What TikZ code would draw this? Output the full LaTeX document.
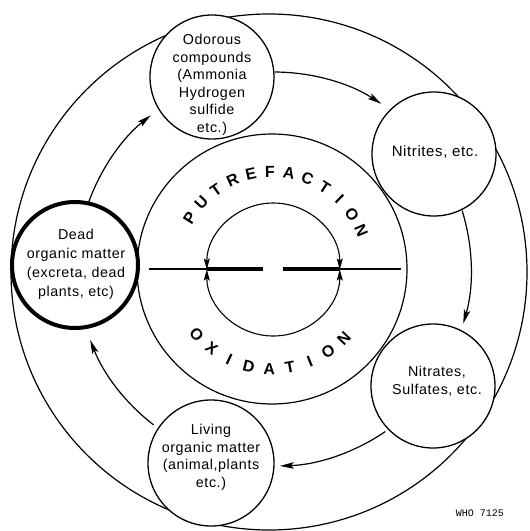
\documentclass[tikz,border=0pt]{standalone}
\usepackage{fontspec}
\setmainfont{Liberation Sans}
\newfontfamily\lab[LetterSpace=4]{Liberation Sans}
\newfontfamily\capsf{Liberation Sans}
\newfontfamily\monof{Liberation Mono}
\usetikzlibrary{arrows.meta,calc}
\begin{document}
\begin{tikzpicture}[x=1pt,y=1pt,
  bub/.style={circle,draw,line width=1.3pt,fill=white,inner sep=0pt,minimum size=124pt},
  txt/.style={font=\lab\fontsize{14.3}{17.5}\selectfont,align=center,inner sep=0pt},
  flow/.style={line width=1.2pt,-{Stealth[length=14pt,width=6.5pt,inset=3pt]}},
  cyc/.style={line width=1.1pt,{Stealth[length=11pt,width=6pt,inset=2pt]}-{Stealth[length=11pt,width=6pt,inset=2pt]}},
  ringtxt/.style={font=\capsf\bfseries\fontsize{16}{16}\selectfont,inner sep=0pt},
  bar/.style={line width=2.4pt},
  barthick/.style={line width=3.8pt}]
\useasboundingbox (0,0) rectangle (530,-531);
% outer and middle rings
\coordinate (C) at (269,-272);
\draw[line width=1.2pt] (C) circle[radius=258];
\coordinate (M) at (272,-269);
\draw[line width=1.2pt] (M) circle[radius=135];
% small bubbles
\node[bub,line width=4pt,minimum size=126pt] (dead) at (75,-265) {};
\node[bub] (odor) at (212,-77) {};
\node[bub] (nitrites) at (434,-154) {};
\node[bub] (nitrates) at (433,-386) {};
\node[bub,minimum size=126pt] (living) at (211,-463) {};
% bubble texts
\node[txt,font=\lab\fontsize{14.3}{19}\selectfont] (deadtxt) at (76,-264) {Dead\\organic matter\\(excreta, dead\\plants, etc)};
\node[txt] (odortxt) at (212,-85) {Odorous\\compounds\\(Ammonia\\Hydrogen\\sulfide\\etc.)};
\node[txt,font=\lab\fontsize{15}{17.5}\selectfont] (nitritestxt) at (435,-152) {Nitrites, etc.};
\node[txt] (nitratestxt) at (437,-381) {Nitrates,\\Sulfates, etc.};
\node[txt] (livingtxt) at (211,-457.5) {Living\\organic matter\\(animal,plants\\etc.)};
% cycle arrows (arcs of one circle round A)
\coordinate (A) at (274,-269);
\coordinate (s1) at ($(A)+(160.7:197)$);
\coordinate (s2) at ($(A)+(89.7:197)$);
\coordinate (s3) at ($(A)+(17.2:197)$);
\coordinate (s4) at ($(A)+(-55.6:197)$);
\coordinate (s5) at ($(A)+(-127.7:197)$);
\draw[flow] (s1) arc[start angle=160.7,end angle=128.7,radius=197];
\draw[flow] (s2) arc[start angle=89.7,end angle=57,radius=197];
\draw[flow] (s3) arc[start angle=17.2,end angle=-16.1,radius=197];
\draw[flow] (s4) arc[start angle=-55.6,end angle=-88.3,radius=197];
\draw[flow] (s5) arc[start angle=-127.7,end angle=-158.9,radius=197];
% inner cycle
\node[circle,minimum size=133pt,inner sep=0pt] (inner) at (273.5,-269.5) {};
\draw[cyc] (inner.west) arc[start angle=180,end angle=0,radius=66.5];
\draw[cyc] (inner.west) arc[start angle=180,end angle=360,radius=66.5];
\coordinate (l1) at (149,-269);
\coordinate (l2) at (207,-269);
\coordinate (l3) at (263,-269);
\coordinate (r1) at (283,-269);
\coordinate (r2) at (340,-269);
\coordinate (r3) at (401,-269);
\draw[bar] (l1) -- (l2);
\draw[barthick] (l2) -- (l3);
\draw[barthick] (r1) -- (r2);
\draw[bar] (r2) -- (r3);
% ring texts
\foreach \l [count=\i from 0] in {P,U,T,R,E,F,A,C,T,I,O,N}
  \node[ringtxt,rotate=58-11.36*\i] (p\i) at ($(M)+({148-11.36*\i}:97)$) {\l};
\foreach \l [count=\i from 0] in {O,X,I,D,A,T,I,O,N}
  \node[ringtxt,rotate=-49+11.875*\i] (o\i) at ($(M)+({-139+11.875*\i}:100)$) {\l};
% reference number
\node[font=\monof\fontsize{10}{10}\selectfont,inner sep=0pt] (who) at (480,-513) {WHO 7125};
\end{tikzpicture}
\end{document}
